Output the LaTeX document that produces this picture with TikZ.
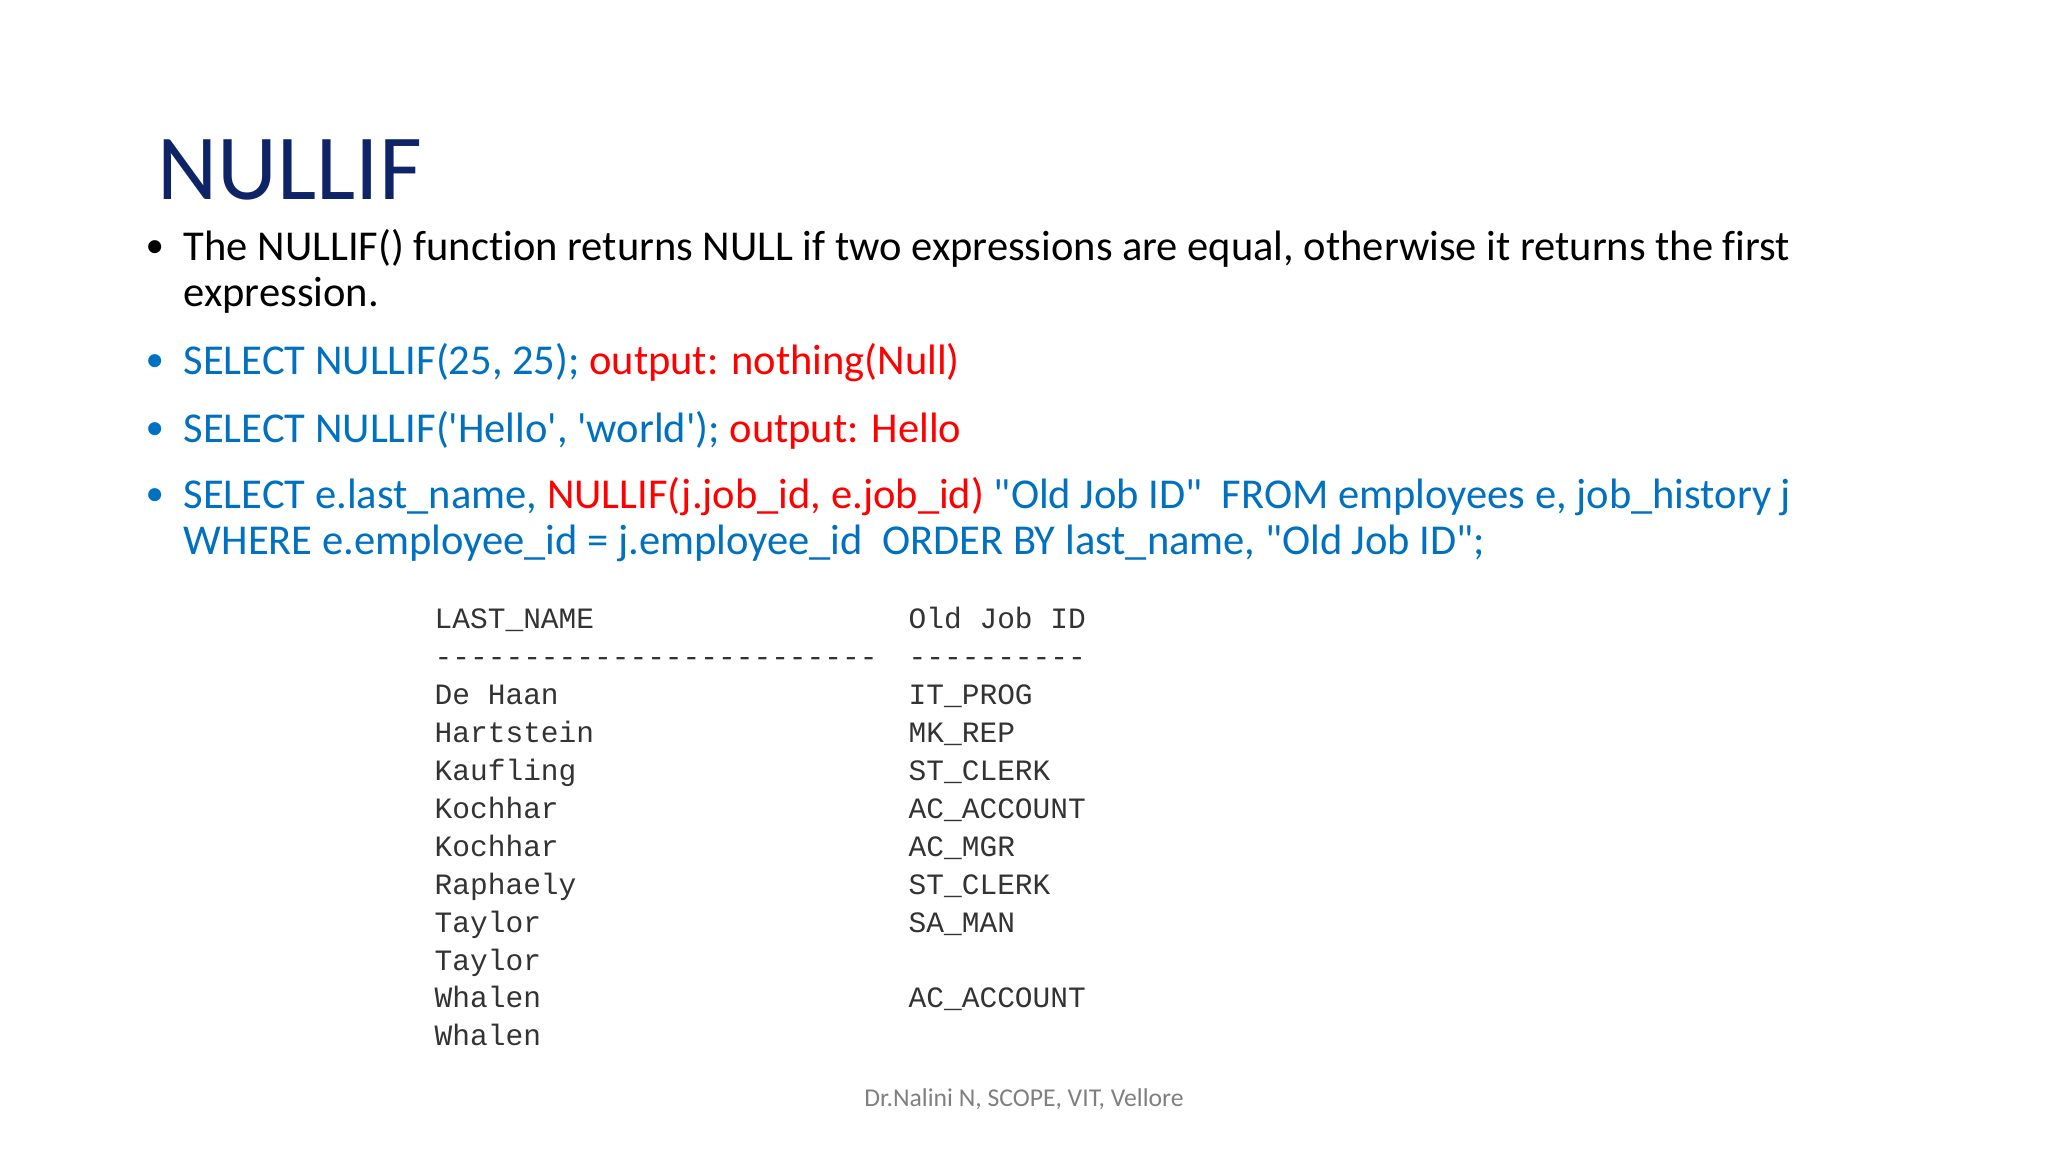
\documentclass[tikz,border=0pt]{standalone}
\usepackage{fontspec}
\newfontfamily\cfont{Carlito}[Ligatures=NoCommon]
\setmonofont{Liberation Mono}
\definecolor{navy}{HTML}{0F2467}
\definecolor{sqlblue}{HTML}{0070C0}
\definecolor{outred}{HTML}{FF0000}
\definecolor{foot}{HTML}{7F7F7F}
\newcommand{\sq}{\symbol{39}}
\newcommand{\dq}{\symbol{34}}
\tikzset{
 txt/.style={anchor=base west,inner sep=0pt,font=\cfont\fontsize{12.1}{14}\selectfont},
 bul/.style={anchor=base west,inner sep=0pt,font=\cfont\fontsize{10.5}{14}\selectfont},
 mono/.style={anchor=base west,inner sep=0pt,font=\ttfamily\fontsize{8.4}{10}\selectfont,text=black!80}
}
\begin{document}
\begin{tikzpicture}[y=-1cm]
\useasboundingbox (0,0) rectangle (20.48,11.52);
\node[anchor=base west,inner sep=0pt,text=navy,font=\cfont\fontsize{26.5}{32}\selectfont] (title) at (1.57,2.0) {NULLIF};
\node[bul] (b1) at (1.45,2.58) {•};
\node[txt] (t1) at (1.83,2.61) {The NULLIF() function returns NULL if two expressions are equal, otherwise it returns the first};
\node[txt] (t1b) at (1.83,3.07) {expression.};
\node[bul,text=sqlblue] (b2) at (1.45,3.72) {•};
\node[txt] (t2) at (1.83,3.75) {\textcolor{sqlblue}{SELECT NULLIF(25, 25);} \textcolor{outred}{output: nothing(Null)}};
\node[bul,text=sqlblue] (b3) at (1.45,4.40) {•};
\node[txt] (t3) at (1.83,4.43) {\textcolor{sqlblue}{SELECT NULLIF(\sq Hello\sq, \sq world\sq);} \textcolor{outred}{output: Hello}};
\node[bul,text=sqlblue] (b4) at (1.45,5.06) {•};
\node[txt] (t4) at (1.83,5.09) {\textcolor{sqlblue}{SELECT e.last\_name,} \textcolor{outred}{NULLIF(j.job\_id, e.job\_id)} \textcolor{sqlblue}{\dq Old Job ID\dq\ \ FROM employees e, job\_history j}};
\node[txt,text=sqlblue] (t4b) at (1.83,5.55) {WHERE e.employee\_id = j.employee\_id\ \ ORDER BY last\_name, \dq Old Job ID\dq;};
\foreach \i/\a/\b in {0/LAST\_NAME/Old Job ID,1/-------------------------/----------,2/De Haan/IT\_PROG,3/Hartstein/MK\_REP,4/Kaufling/ST\_CLERK,5/Kochhar/AC\_ACCOUNT,6/Kochhar/AC\_MGR,7/Raphaely/ST\_CLERK,8/Taylor/SA\_MAN,9/Taylor/,10/Whalen/AC\_ACCOUNT,11/Whalen/}{
 \node[mono] (l\i) at (4.34,6.29+0.379*\i) {\a};
 \node[mono] (r\i) at (9.08,6.29+0.379*\i) {\b};
}
\node[anchor=base,inner sep=0pt,text=foot,font=\cfont\fontsize{7.3}{9}\selectfont] (footer) at (10.24,11.06) {Dr.Nalini N, SCOPE, VIT, Vellore};
\end{tikzpicture}
\end{document}
